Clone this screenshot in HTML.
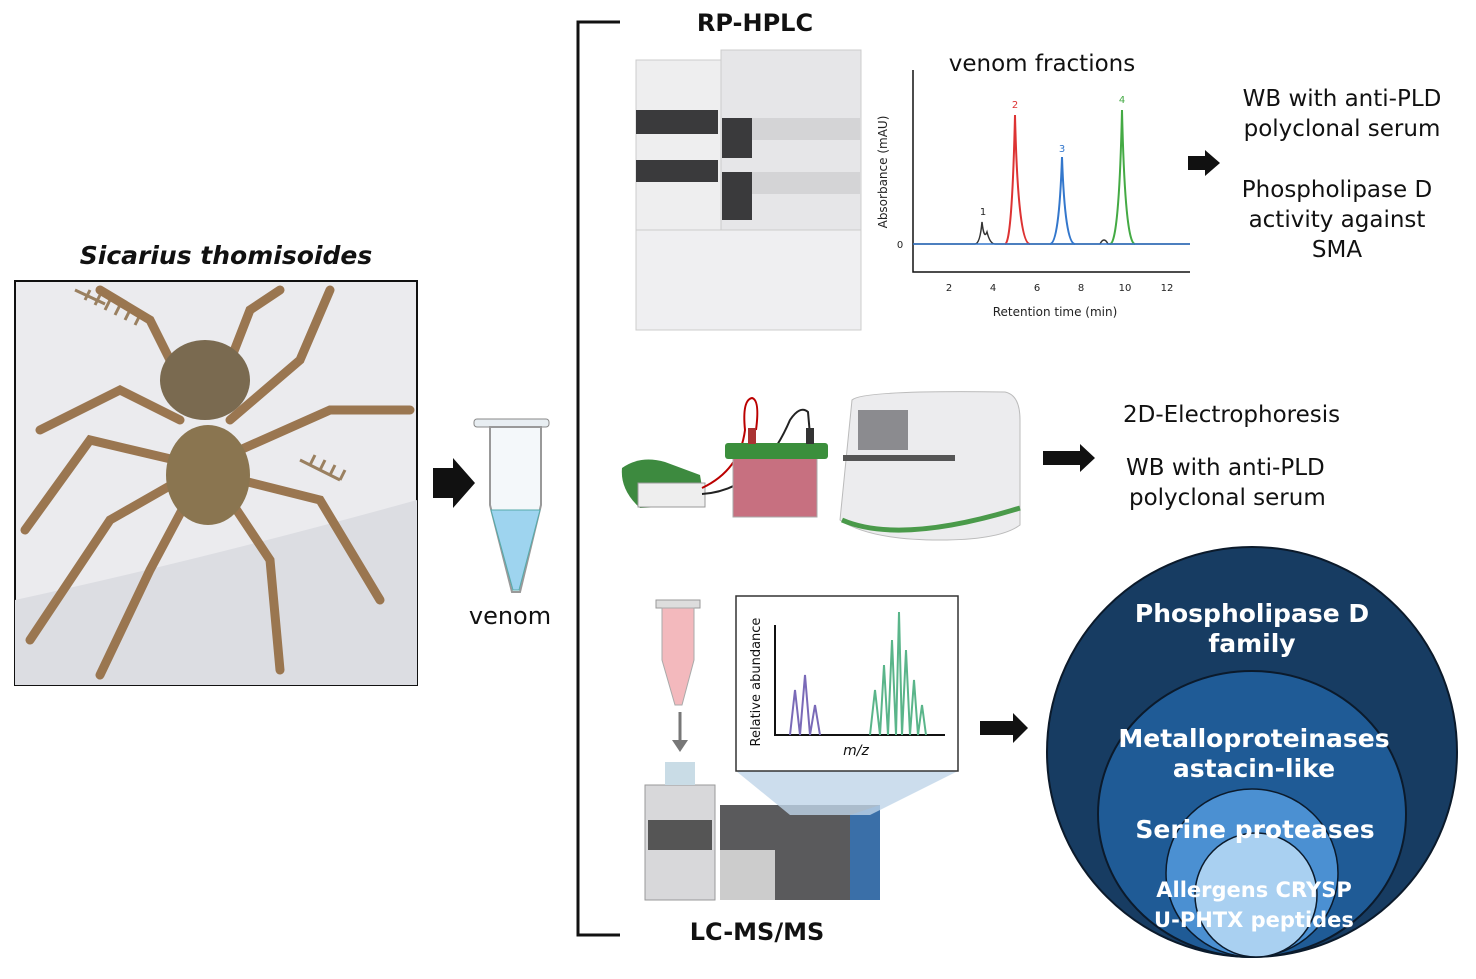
<!DOCTYPE html>
<html><head><meta charset="utf-8"><style>
body{margin:0;background:#fff;width:1476px;height:979px;overflow:hidden}
svg{display:block}
text{font-family:"DejaVu Sans","Liberation Sans",sans-serif}
</style></head><body>
<svg width="1476" height="979" viewBox="0 0 1476 979" xmlns="http://www.w3.org/2000/svg">
<!-- title & photo -->
<text x="226" y="264" text-anchor="middle" font-size="25" font-weight="bold" font-style="italic" fill="#111">Sicarius thomisoides</text>
<rect x="15" y="281" width="402" height="404" fill="#ebebee" stroke="#111" stroke-width="2"/>
<path d="M15 600 Q200 560 417 500 L417 685 L15 685Z" fill="#dcdde2"/>
<g stroke="#9a8060" stroke-width="3" fill="none">
<path d="M75 290 l30 14 M85 300 l5 -10 M95 305 l5 -10 M105 310 l5 -10 M115 315 l5 -10 M125 320 l5 -10 M135 325 l5 -10"/>
<path d="M300 460 l40 20 M310 465 l5 -10 M320 470 l5 -10 M330 475 l5 -10 M340 480 l5 -10"/>
</g>
<g stroke="#9a7650" stroke-width="9" fill="none" stroke-linecap="round">
<path d="M180 420 L120 390 L40 430"/><path d="M175 460 L90 440 L25 530"/>
<path d="M180 480 L110 520 L30 640"/><path d="M190 495 L150 570 L100 675"/>
<path d="M230 420 L300 360 L330 290"/><path d="M240 450 L330 410 L410 410"/>
<path d="M240 480 L320 500 L380 600"/><path d="M230 500 L270 560 L280 670"/>
<path d="M190 400 L150 320 L100 290"/><path d="M215 400 L250 310 L280 290"/>
</g>
<ellipse cx="205" cy="380" rx="45" ry="40" fill="#7a6a50"/>
<ellipse cx="208" cy="475" rx="42" ry="50" fill="#8a7550"/>
<!-- arrow 1 -->
<path d="M433 468 H453 V458 L475 483 L453 508 V498 H433Z" fill="#111"/>
<!-- tube -->
<rect x="474" y="419" width="75" height="8" rx="3" fill="#e8eef2" stroke="#888"/>
<path d="M490 427 H541 V505 L520 592 H512 L490 505Z" fill="#f4f8fa" stroke="#999" stroke-width="2"/>
<path d="M491 510 H540 L519 590 H513Z" fill="#9ed4ef" stroke="#5aa" stroke-width="1"/>
<text x="510" y="624" text-anchor="middle" font-size="24" fill="#111">venom</text>
<!-- bracket -->
<path d="M620 22 H578 V935 H620" fill="none" stroke="#111" stroke-width="3"/>
<text x="755" y="31" text-anchor="middle" font-size="24" font-weight="bold" fill="#111">RP-HPLC</text>
<text x="757" y="940" text-anchor="middle" font-size="24" font-weight="bold" fill="#111">LC-MS/MS</text>
<!-- HPLC machine -->
<rect x="636" y="60" width="85" height="270" fill="#eeeeef" stroke="#ccc"/>
<rect x="721" y="50" width="140" height="280" fill="#e6e6e8" stroke="#ccc"/>
<rect x="636" y="110" width="82" height="24" fill="#3a3a3c"/>
<rect x="636" y="160" width="82" height="22" fill="#3a3a3c"/>
<rect x="722" y="118" width="30" height="40" fill="#3a3a3c"/>
<rect x="722" y="172" width="30" height="48" fill="#3a3a3c"/>
<rect x="752" y="118" width="108" height="22" fill="#d4d4d6"/>
<rect x="752" y="172" width="108" height="22" fill="#d4d4d6"/>
<rect x="636" y="230" width="225" height="100" fill="#efeff1" stroke="#ccc"/>
<!-- chart -->
<text x="1042" y="71" text-anchor="middle" font-size="23" fill="#111">venom fractions</text>
<path d="M913 70 V272 H1190" fill="none" stroke="#111" stroke-width="1.5"/>
<text x="1055" y="316" text-anchor="middle" font-size="12" fill="#222">Retention time (min)</text>
<text x="887" y="172" text-anchor="middle" font-size="12" fill="#222" transform="rotate(-90 887 172)">Absorbance (mAU)</text>
<g font-size="10" fill="#222" text-anchor="middle"><text x="949" y="291">2</text><text x="993" y="291">4</text><text x="1037" y="291">6</text><text x="1081" y="291">8</text><text x="1125" y="291">10</text><text x="1167" y="291">12</text><text x="900" y="248">0</text>
<text x="983" y="215">1</text><text x="1015" y="108" fill="#d33">2</text><text x="1062" y="152" fill="#37c">3</text><text x="1122" y="103" fill="#4a4">4</text></g>
<path d="M913 244 H975 Q980 244 982 222 Q984 240 987 232 Q990 244 995 244 H1100 Q1104 236 1108 244 H1190" fill="none" stroke="#333" stroke-width="1.5"/>
<path d="M1005 244 Q1012 244 1015 115 Q1018 244 1030 244" fill="none" stroke="#d33" stroke-width="2"/>
<path d="M1050 244 Q1059 244 1062 157 Q1065 244 1075 244" fill="none" stroke="#37c" stroke-width="2"/>
<path d="M1110 244 Q1119 244 1122 110 Q1125 244 1135 244" fill="none" stroke="#4a4" stroke-width="2"/>
<path d="M913 244 H1190" stroke="#37c" stroke-width="1.5"/>
<path d="M1188 156 H1205 V150 L1220 163 L1205 176 V170 H1188Z" fill="#111"/>
<g font-size="23" fill="#111" text-anchor="middle">
<text x="1342" y="106">WB with anti-PLD</text><text x="1342" y="136">polyclonal serum</text>
<text x="1337" y="197">Phospholipase D</text><text x="1337" y="227">activity against</text><text x="1337" y="257">SMA</text>
</g>
<!-- electrophoresis -->
<path d="M622 468 Q640 455 665 462 L700 475 L705 505 L640 508 Q620 490 622 468Z" fill="#3d8a3f"/>
<rect x="638" y="483" width="67" height="24" fill="#eee" stroke="#999"/>
<path d="M702 488 Q740 470 745 430 Q742 400 752 398 Q760 400 756 430" stroke="#b00" stroke-width="2" fill="none"/>
<path d="M702 494 Q760 490 790 420 Q800 405 808 412 L810 435" stroke="#222" stroke-width="2" fill="none"/>
<rect x="733" y="455" width="84" height="62" fill="#c77080" stroke="#aaa"/>
<rect x="725" y="443" width="103" height="16" rx="3" fill="#3b8f3c"/>
<rect x="748" y="428" width="8" height="16" fill="#a33"/>
<rect x="806" y="428" width="8" height="16" fill="#333"/>
<path d="M852 400 Q862 390 1005 392 Q1020 395 1020 420 V525 Q1000 540 940 540 Q870 540 840 520 Z" fill="#ececee" stroke="#bbb"/>
<rect x="858" y="410" width="50" height="40" fill="#8b8b8f"/>
<rect x="843" y="455" width="112" height="6" fill="#555"/>
<path d="M842 520 Q900 545 1020 508" stroke="#4a9a4a" stroke-width="5" fill="none"/>
<path d="M1043 451 H1080 V444 L1095 458 L1080 472 V465 H1043Z" fill="#111"/>
<g font-size="23" fill="#111">
<text x="1123" y="422">2D-Electrophoresis</text>
<text x="1126" y="475">WB with anti-PLD</text><text x="1129" y="505">polyclonal serum</text>
</g>
<!-- LC-MS -->
<rect x="656" y="600" width="44" height="8" fill="#ddd" stroke="#999"/>
<path d="M662 608 H694 V660 L682 705 H675 L662 660Z" fill="#f3b9bd" stroke="#aaa"/>
<path d="M680 712 V745" stroke="#777" stroke-width="3"/><path d="M672 740 L680 752 L688 740Z" fill="#777"/>
<rect x="645" y="785" width="70" height="115" fill="#d8d8da" stroke="#999"/>
<rect x="648" y="820" width="64" height="30" fill="#555"/>
<rect x="665" y="762" width="30" height="23" fill="#c9dce6"/>
<rect x="720" y="805" width="160" height="95" fill="#5a5a5c" />
<rect x="720" y="850" width="55" height="50" fill="#ccc"/>
<path d="M850 815 L880 805 V900 H850Z" fill="#3a6fa8"/>
<path d="M736 771 H958 L870 815 H790Z" fill="#bfd5e8" opacity="0.8"/>
<rect x="736" y="596" width="222" height="175" fill="#fff" stroke="#333" stroke-width="1.5"/>
<path d="M775 625 V735 H945" fill="none" stroke="#111" stroke-width="2"/>
<text x="760" y="682" text-anchor="middle" font-size="13" fill="#111" transform="rotate(-90 760 682)">Relative abundance</text>
<text x="856" y="755" text-anchor="middle" font-size="14" font-style="italic" fill="#111">m/z</text>
<path d="M790 735 L795 690 L800 735 L805 675 L810 735 L815 705 L820 735" stroke="#7a6ab8" stroke-width="2" fill="none"/>
<path d="M870 735 L875 690 L880 735 L884 665 L888 735 L892 640 L896 735 L899 612 L902 735 L906 650 L910 735 L914 680 L918 735 L922 705 L926 735" stroke="#5ab58a" stroke-width="2" fill="none"/>
<path d="M980 721 H1013 V713 L1028 728 L1013 743 V735 H980Z" fill="#111"/>
<!-- circles -->
<circle cx="1252" cy="752" r="205" fill="#173c62" stroke="#0b1a2b" stroke-width="2"/>
<ellipse cx="1252" cy="814" rx="154" ry="143" fill="#1f5b96" stroke="#0b1a2b" stroke-width="2"/>
<ellipse cx="1252" cy="873" rx="86" ry="84" fill="#4b90d2" stroke="#0b1a2b" stroke-width="1.5"/>
<ellipse cx="1256" cy="895" rx="61" ry="62" fill="#a9d0f1" stroke="#0b1a2b" stroke-width="1.5"/>
<g font-size="25" font-weight="bold" fill="#fff" text-anchor="middle">
<text x="1252" y="622">Phospholipase D</text><text x="1252" y="652">family</text>
<text x="1254" y="747">Metalloproteinases</text><text x="1254" y="777">astacin-like</text>
<text x="1255" y="838">Serine proteases</text>
<text x="1254" y="897" font-size="21">Allergens CRYSP</text><text x="1254" y="927" font-size="21">U-PHTX peptides</text>
</g>
</svg>
</body></html>
